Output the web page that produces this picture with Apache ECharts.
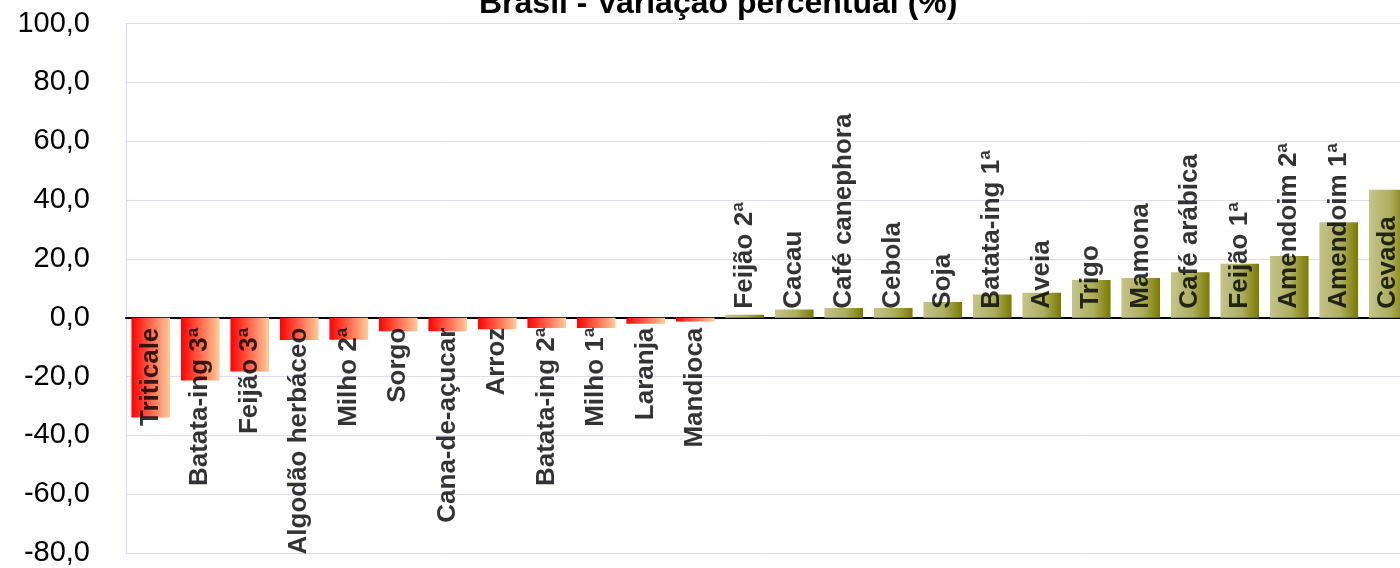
<!DOCTYPE html>
<html>
<head>
<meta charset="utf-8">
<script src="https://cdn.jsdelivr.net/npm/echarts@6/dist/echarts.min.js"></script>
<style>
html,body{margin:0;padding:0;background:#fff;}
#chart{width:1400px;height:568px;}
</style>
</head>
<body>
<div id="chart"></div>
<script>
const titleText = 'Brasil - Variação percentual (%)';
const categories = ['Triticale','Batata-ing 3ª','Feijão 3ª','Algodão herbáceo','Milho 2ª','Sorgo','Cana-de-açucar','Arroz','Batata-ing 2ª','Milho 1ª','Laranja','Mandioca','Feijão 2ª','Cacau','Café canephora','Cebola','Soja','Batata-ing 1ª','Aveia','Trigo','Mamona','Café arábica','Feijão 1ª','Amendoim 2ª','Amendoim 1ª','Cevada'];
const values = [-33.9,-21.4,-18.3,-7.6,-7.5,-4.6,-4.6,-3.9,-3.5,-3.5,-2.1,-1.3,1.0,2.8,3.3,3.3,5.3,7.9,8.5,12.8,13.5,15.4,18.3,21.0,32.4,43.5];
const yTicks = {min:-80, max:100, interval:20};

const negGrad = {type:'linear',x:0,y:0,x2:1,y2:0,colorStops:[{offset:0,color:'#ff0000'},{offset:1,color:'#ffcc99'}]};
const posGrad = {type:'linear',x:0,y:0,x2:1,y2:0,colorStops:[{offset:0,color:'#c4c48a'},{offset:0.55,color:'#aeae5e'},{offset:1,color:'#7a7a00'}]};

const FONT = 'Liberation Sans, Arial, sans-serif';

// label anchors sit on the zero baseline of each category
const labelData = categories.map((c, i) => {
  const neg = values[i] < 0;
  return {
    value: [c, 0],
    label: {
      show: true, position: 'inside', rotate: 90,
      align: neg ? 'right' : 'left', verticalAlign: 'middle',
      offset: [neg ? -10 : 9, 0],
      formatter: c, fontWeight: 'bold', fontSize: 26, color: '#000', fontFamily: FONT
    }
  };
});

const chart = echarts.init(document.getElementById('chart'));
chart.setOption({
  animation:false,
  backgroundColor:'#fff',
  title:{text:titleText, left:474, top:-17, textStyle:{fontSize:32, fontWeight:'bold', color:'#000', fontFamily:FONT}},
  grid:{left:126, top:23.5, right:-13, bottom:15, containLabel:false, outerBoundsMode:'none'},
  xAxis:{type:'category', data:categories,
     axisLine:{onZero:true, lineStyle:{color:'#000', width:2}},
     axisTick:{show:false},
     axisLabel:{show:false}},
  yAxis:{type:'value', min:yTicks.min, max:yTicks.max, interval:yTicks.interval,
    axisLine:{show:true, lineStyle:{color:'#d4d4f4', width:1}},
    axisTick:{show:false},
    splitLine:{lineStyle:{color:'#dcdcf8', width:1}},
    axisLabel:{margin:36, fontSize:29, color:'#000', fontFamily:FONT,
      formatter:v=> v.toFixed(1).replace('.', ',')}},
  series:[
    {type:'bar', data:values, barCategoryGap:'22%', z:2,
     itemStyle:{color:p=> p.value < 0 ? negGrad : posGrad}},
    {type:'scatter', data:labelData, symbolSize:0, z:5, silent:true}
  ]
});
</script>
</body>
</html>
